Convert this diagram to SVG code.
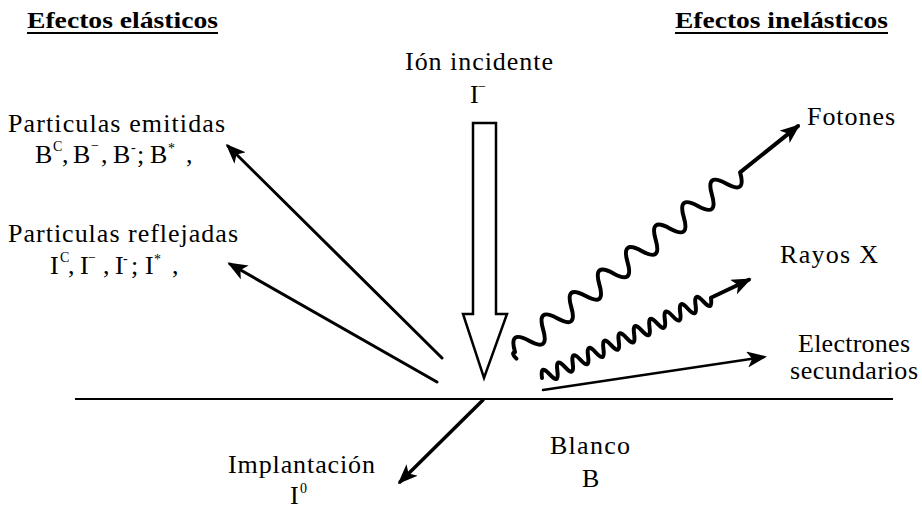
<svg xmlns="http://www.w3.org/2000/svg" width="922" height="509" viewBox="0 0 922 509">
<style>
.t{font-family:"Liberation Serif","Times New Roman",serif;font-size:26px;fill:#000}
.h{font-family:"Liberation Serif","Times New Roman",serif;font-size:24px;font-weight:bold;fill:#000}
.sup{font-size:14px}
.ln{fill:none;stroke:#000;stroke-linecap:round;stroke-linejoin:round}
</style>
<defs>
<marker id="ah" markerUnits="userSpaceOnUse" viewBox="0 0 20 16" markerWidth="20" markerHeight="16" refX="17" refY="8" orient="auto">
<path d="M0,0 L20,8 L0,16 L5,8 z" fill="#000"/>
</marker>
</defs>
<rect width="922" height="509" fill="#fff"/>

<g id="titulo-elasticos">
<text class="h" x="27" y="28" textLength="191" lengthAdjust="spacingAndGlyphs">Efectos elásticos</text>
<line x1="27" y1="33" x2="218" y2="33" stroke="#000" stroke-width="2.2"/>
</g>
<g id="titulo-inelasticos">
<text class="h" x="675" y="28" textLength="213" lengthAdjust="spacingAndGlyphs">Efectos inelásticos</text>
<line x1="675" y1="33" x2="888" y2="33" stroke="#000" stroke-width="2.2"/>
</g>

<g id="ion-incidente">
<text class="t" x="405" y="70" textLength="148" lengthAdjust="spacing">Ión incidente</text>
<text class="t" y="103"><tspan x="470">I</tspan><tspan class="sup" x="478" y="91">−</tspan></text>
<polygon points="473,123 496,123 496,314 507,314 484,378 463,314 473,314" fill="#fff" stroke="#000" stroke-width="2.5" stroke-linejoin="miter"/>
</g>

<g id="particulas-emitidas">
<text class="t" x="8" y="132" textLength="217" lengthAdjust="spacing">Particulas emitidas</text>
<text class="t" y="163"><tspan x="35">B</tspan><tspan class="sup" x="53" y="151">C</tspan><tspan x="62" y="163">,</tspan><tspan x="73">B</tspan><tspan class="sup" x="91" y="150">−</tspan><tspan x="101" y="163">,</tspan><tspan x="113">B</tspan><tspan class="sup" x="131" y="152">-</tspan><tspan x="137" y="163">;</tspan><tspan x="150">B</tspan><tspan class="sup" x="168" y="153">*</tspan><tspan x="186" y="163">,</tspan></text>
</g>

<g id="particulas-reflejadas">
<text class="t" x="8" y="242" textLength="230" lengthAdjust="spacing">Particulas reflejadas</text>
<text class="t" y="274"><tspan x="50">I</tspan><tspan class="sup" x="60" y="262">C</tspan><tspan x="68" y="274">,</tspan><tspan x="80">I</tspan><tspan class="sup" x="88" y="262">−</tspan><tspan x="103" y="274">,</tspan><tspan x="115">I</tspan><tspan class="sup" x="123" y="263">-</tspan><tspan x="131" y="274">;</tspan><tspan x="145">I</tspan><tspan class="sup" x="154" y="264">*</tspan><tspan x="172" y="274">,</tspan></text>
</g>

<g id="fotones"><text class="t" x="807" y="125" textLength="88" lengthAdjust="spacing">Fotones</text></g>
<g id="rayos-x"><text class="t" x="780" y="263" textLength="98" lengthAdjust="spacing">Rayos X</text></g>
<g id="electrones-secundarios">
<text class="t" x="798" y="352" textLength="112" lengthAdjust="spacing">Electrones</text>
<text class="t" x="790" y="379" textLength="128" lengthAdjust="spacing">secundarios</text>
</g>

<g id="blanco">
<line x1="75" y1="399" x2="893" y2="399" stroke="#000" stroke-width="2"/>
<text class="t" x="550" y="454" textLength="80" lengthAdjust="spacing">Blanco</text>
<text class="t" x="582" y="487">B</text>
</g>

<g id="implantacion">
<text class="t" x="228" y="473" textLength="147" lengthAdjust="spacing">Implantación</text>
<text class="t" y="504"><tspan x="290">I</tspan><tspan class="sup" x="300" y="493">0</tspan></text>
</g>

<g id="connectors">
<line class="ln" x1="442" y1="358" x2="228" y2="146" stroke-width="3" marker-end="url(#ah)"/>
<line class="ln" x1="437" y1="382" x2="230" y2="264" stroke-width="3" marker-end="url(#ah)"/>
<line class="ln" x1="483" y1="400" x2="400" y2="482" stroke-width="3.5" marker-end="url(#ah)"/>
<line class="ln" x1="543" y1="390" x2="764" y2="357" stroke-width="2.5" marker-end="url(#ah)"/>
<g transform="translate(515,352) rotate(-38.6)">
<path class="ln" stroke-width="4" marker-end="url(#ah)" d="M-3,6 Q-4,-2 0,0 q9,-22 18,0 t18,0 t18,0 t18,0 t18,0 t18,0 t18,0 t18,0 t18,0 t18,0 t18,0 t18,0 t18,0 t18,0 t18,0 t18,0 L362,0"/>
</g>
<g transform="translate(542,378) rotate(-25.4)">
<path class="ln" stroke-width="4" marker-end="url(#ah)" d="M0,0 q4.25,-14 8.5,0 t8.5,0 t8.5,0 t8.5,0 t8.5,0 t8.5,0 t8.5,0 t8.5,0 t8.5,0 t8.5,0 t8.5,0 t8.5,0 t8.5,0 t8.5,0 t8.5,0 t8.5,0 t8.5,0 t8.5,0 t8.5,0 t8.5,0 t8.5,0 t8.5,0 L229,0"/>
</g>
</g>
</svg>
